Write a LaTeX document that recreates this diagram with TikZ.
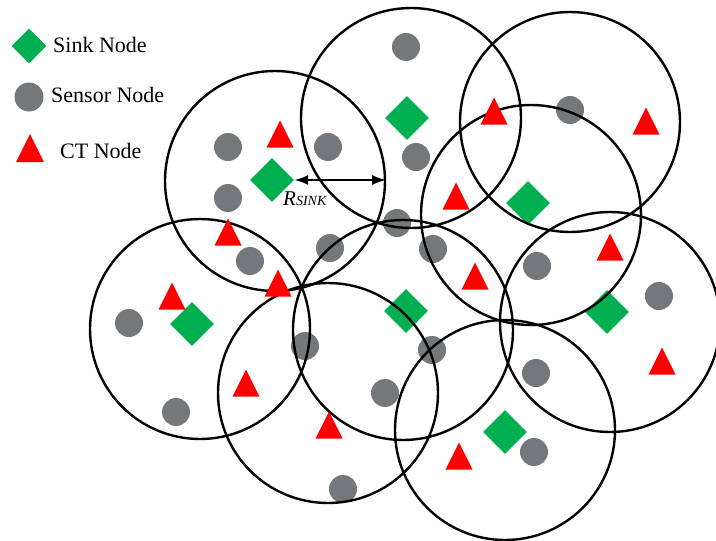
\documentclass[tikz,border=0pt]{standalone}
\usepackage{fontspec}
\setmainfont{Liberation Serif}
\usetikzlibrary{shapes.geometric,arrows.meta}
\definecolor{sinkgreen}{RGB}{0,176,80}
\definecolor{sensorgray}{RGB}{117,120,123}
\definecolor{ctred}{RGB}{255,0,0}
\tikzset{
  sinknode/.style={diamond,fill=sinkgreen,inner sep=0pt,minimum width=44pt,minimum height=44pt},
  sensornode/.style={circle,fill=sensorgray,inner sep=0pt,minimum size=28pt},
  ctfill/.style={fill=ctred},
  rangecircle/.style={circle,draw=black,line width=2.4pt,inner sep=0pt,minimum size=220pt},
  legendtext/.style={anchor=base west,inner sep=0pt,font=\fontsize{22}{26}\selectfont},
  rangearrow/.style={line width=2pt,{Latex[length=14pt,width=10pt]}-{Latex[length=14pt,width=10pt]}}
}
\begin{document}
\begin{tikzpicture}[x=1pt,y=-1pt]
\useasboundingbox (0,0) rectangle (716,541);
% legend
\node[sinknode,minimum width=35pt,minimum height=35pt] (lsink) at (29,46) {};
\node[legendtext] (lsinktext) at (53,52) {Sink Node};
\node[sensornode,minimum size=29pt] (lsensor) at (29,97) {};
\node[legendtext] (lsensortext) at (51,102) {Sensor Node};
\coordinate (lct) at (30,148);
\fill[ctfill] (30-14,148+14) -- (30+14,148+14) -- (30,148-14) -- cycle;
\node[legendtext] (lcttext) at (60,158) {CT Node};
% sensors
\foreach \x/\y [count=\i] in {406/47,228/147,328/147,228/198,416/157,570/110,397/223,250/261,330/248,433/249,537/266,659/296,129/323,305/346,432/350,536/373,385/393,176/412,534/452,343/489}
  \node[sensornode] (sensor\i) at (\x,\y) {};
% sinks
\node[sinknode] (sinkA) at (272,180) {};
\node[sinknode] (sinkB) at (407,118) {};
\node[sinknode] (sinkD) at (528,203) {};
\node[sinknode] (sinkG) at (406,311) {};
\node[sinknode] (sinkE) at (607,312) {};
\node[sinknode] (sinkF) at (505,432) {};
\node[sinknode] (sinkI) at (192,324) {};
% ranges
\node[rangecircle] (rangeA) at (275,181) {};
\node[rangecircle] (rangeB) at (411,118) {};
\node[rangecircle] (rangeC) at (570,122) {};
\node[rangecircle] (rangeD) at (531,215) {};
\node[rangecircle] (rangeE) at (610,322) {};
\node[rangecircle] (rangeF) at (505,430) {};
\node[rangecircle] (rangeG) at (403,330) {};
\node[rangecircle] (rangeH) at (328,393) {};
\node[rangecircle] (rangeI) at (200,329) {};
% CT nodes
\foreach \x/\y [count=\i] in {280/134,494/111,646/121,456/196,228/232,610/247,475/276,278/283,172/296,662/361,246/383,329/425,459/456}
  \fill[ctfill] (\x-13.5,\y+13.5) -- (\x+13.5,\y+13.5) -- (\x,\y-13.5) -- cycle;
% radius arrow
\draw[rangearrow] (sinkA.east) -- (sinkA.east -| rangeA.east);
\node[inner sep=0pt,anchor=base west] (rlabel) at (283,205) {\itshape\fontsize{21}{24}\selectfont R\fontsize{14}{16}\selectfont SINK};
\end{tikzpicture}
\end{document}
